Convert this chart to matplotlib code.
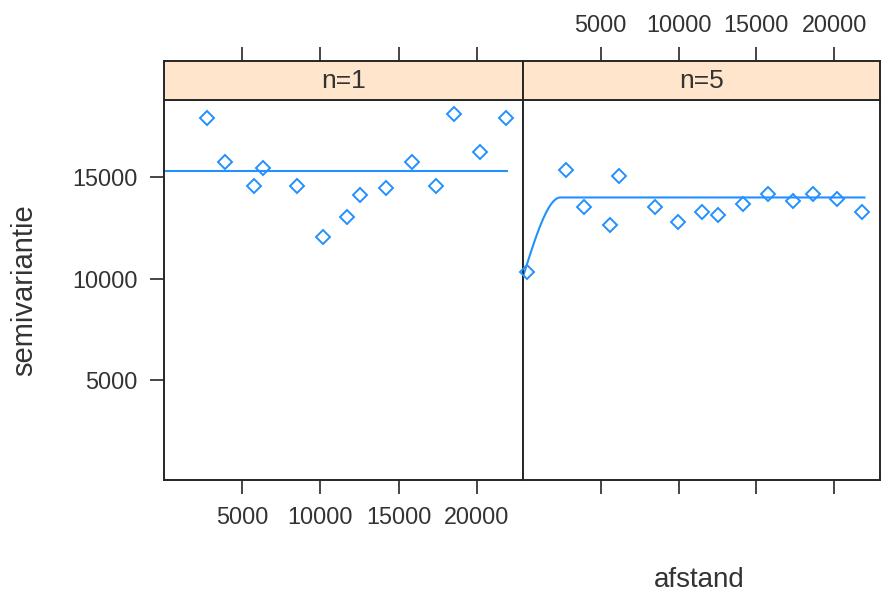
import numpy as np
import matplotlib
matplotlib.use("Agg")
import matplotlib.pyplot as plt

plt.rcParams['font.family'] = ['Liberation Sans', 'DejaVu Sans']

# ---- data ----
panels = ["n=1", "n=5"]
lag_n1 = [2765, 3914, 5728, 6341, 8474, 10134, 11686, 12535, 14195, 15881, 17388, 18519, 20179, 21884]
gamma_n1 = [17897, 15725, 14541, 15449, 14541, 12073, 13060, 14131, 14442, 15725, 14541, 18094, 16219, 17897]
lag_n5 = [267, 2752, 3917, 5573, 6191, 8484, 9968, 11516, 12561, 14172, 15720, 17357, 18631, 20159, 21771]
gamma_n5 = [10345, 15331, 13554, 12651, 15035, 13554, 12784, 13278, 13145, 13672, 14166, 13835, 14166, 13949, 13278]

# fitted variogram models
model_n1 = {"nugget": 15300, "psill": 0, "range": 1}
model_n5 = {"nugget": 10100, "psill": 3900, "range": 2400}
max_dist = 21950

x_ticks = [5000, 10000, 15000, 20000]
y_ticks = [5000, 10000, 15000]
xlim = (0, 22950)
ylim = (100, 18820)

col = "#2290ff"
frame = "#262626"
strip_bg = "#ffe5cc"
txt = "#333333"


def spherical(h, m):
    r = np.clip(h / m["range"], 0, 1)
    return m["nugget"] + m["psill"] * (1.5 * r - 0.5 * r ** 3)


W, H = 881, 597
fig = plt.figure(figsize=(W / 100, H / 100), dpi=100)

def fx(px):
    return px / W

def fy(py):
    return 1 - py / H

ax_l = fig.add_axes([fx(164), fy(480), fx(523 - 164), fy(99.5) - fy(480)])
ax_r = fig.add_axes([fx(523), fy(480), fx(880 - 523), fy(99.5) - fy(480)])
st_l = fig.add_axes([fx(164), fy(99.5), fx(523 - 164), fy(61) - fy(99.5)])
st_r = fig.add_axes([fx(523), fy(99.5), fx(880 - 523), fy(61) - fy(99.5)])

tick_kw = dict(direction='out', length=10, width=1.2, color=frame, labelsize=16.8,
               labelcolor=txt)

data = [(ax_l, lag_n1, gamma_n1, model_n1), (ax_r, lag_n5, gamma_n5, model_n5)]
hh = np.linspace(0, max_dist, 600)
for ax, lg, gm, m in data:
    ax.plot(hh, spherical(hh, m), color=col, lw=1.5, zorder=2, clip_on=True)
    ax.plot(lg, gm, linestyle='none', marker='D', markersize=6.8, markerfacecolor='none',
            markeredgecolor=col, markeredgewidth=1.4, zorder=3, clip_on=False)
    ax.set_xlim(*xlim)
    ax.set_ylim(*ylim)
    for s in ax.spines.values():
        s.set_color(frame)
        s.set_linewidth(1.4)
    ax.set_xticks(x_ticks)
    ax.set_yticks(y_ticks)
    ax.tick_params(**tick_kw)

ax_l.tick_params(axis='x', bottom=True, top=False, labelbottom=True, pad=9)
ax_l.tick_params(axis='y', left=True, right=False, labelleft=True, pad=9)
ax_r.tick_params(axis='x', bottom=True, top=False, labelbottom=False)
ax_r.tick_params(axis='y', left=False, right=False, labelleft=False)

for st, lab, show in [(st_l, panels[0], False), (st_r, panels[1], True)]:
    st.set_facecolor(strip_bg)
    st.set_xlim(*xlim)
    st.set_ylim(0, 1)
    st.set_yticks([])
    st.set_xticks(x_ticks)
    st.tick_params(axis='x', top=True, bottom=False, labeltop=show, labelbottom=False,
                   pad=7, **tick_kw)
    for s in st.spines.values():
        s.set_color(frame)
        s.set_linewidth(1.4)
    st.text(0.5, 0.47, lab, transform=st.transAxes, ha='center', va='center',
            fontsize=19, color=txt)

fig.text(fx(24), fy(290), "semivariantie", rotation=90, ha='center', va='center',
         fontsize=21, color=txt)
fig.text(fx(699), fy(580), "afstand", ha='center', va='center', fontsize=20,
         color=txt)

fig.savefig("out.png", dpi=100, facecolor='white')
